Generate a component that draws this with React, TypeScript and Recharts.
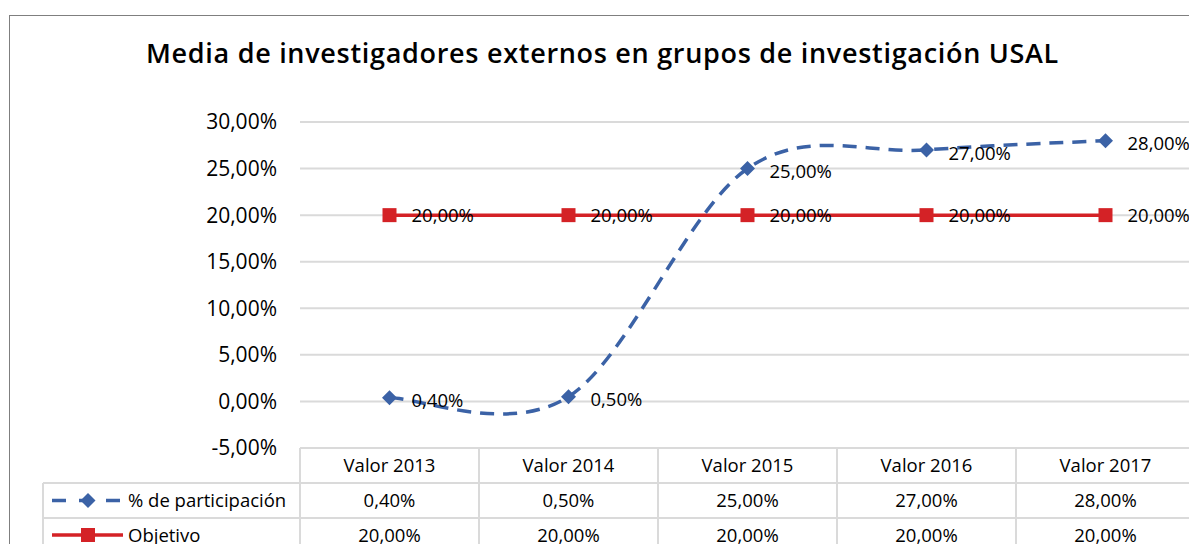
import React from "react";
import { LineChart, Line, XAxis, YAxis, CartesianGrid, LabelList } from "recharts";

const title = "Media de investigadores externos en grupos de investigación USAL";
const categories = ["Valor 2013", "Valor 2014", "Valor 2015", "Valor 2016", "Valor 2017"];
const participacion = [0.4, 0.5, 25, 27, 28];
const objetivo = [20, 20, 20, 20, 20];
const seriesNames = ["% de participación", "Objetivo"];
const yTicks = [-5, 0, 5, 10, 15, 20, 25, 30];

const BLUE = "#3b62a6";
const RED = "#d42226";
const GRID = "#dadada";
const FONT = "'Open Sans', sans-serif";

const data = categories.map((c, i) => ({
  cat: c,
  part: participacion[i],
  obj: objetivo[i],
}));

const fmt = (v: number) => v.toFixed(2).replace(".", ",") + "%";

// Excel-like smoothed line (catmull-rom through the points)
function excelSmooth(context: any) {
  let pts: number[][] = [];
  return {
    areaStart() {},
    areaEnd() {},
    lineStart() {
      pts = [];
    },
    point(x: number, y: number) {
      pts.push([+x, +y]);
    },
    lineEnd() {
      if (!pts.length) return;
      context.moveTo(pts[0][0], pts[0][1]);
      for (let i = 0; i < pts.length - 1; i++) {
        const p0 = pts[Math.max(i - 1, 0)];
        const p1 = pts[i];
        const p2 = pts[i + 1];
        const p3 = pts[Math.min(i + 2, pts.length - 1)];
        context.bezierCurveTo(
          p1[0] + (p2[0] - p0[0]) / 6,
          p1[1] + (p2[1] - p0[1]) / 6,
          p2[0] - (p3[0] - p1[0]) / 6,
          p2[1] - (p3[1] - p1[1]) / 6,
          p2[0],
          p2[1]
        );
      }
    },
  };
}

const Diamond = (props: any) => {
  const { cx, cy } = props;
  if (cx == null || cy == null) return null;
  const r = 7.5;
  return (
    <polygon
      points={`${cx},${cy - r} ${cx + r},${cy} ${cx},${cy + r} ${cx - r},${cy}`}
      fill={BLUE}
    />
  );
};

const Square = (props: any) => {
  const { cx, cy } = props;
  if (cx == null || cy == null) return null;
  return <rect x={cx - 7} y={cy - 7} width={14} height={14} fill={RED} />;
};

// geometry of the data table under the plot
const PLOT_LEFT = 300;
const COL_W = 179;
const TABLE_TOP = 448;
const ROW_H = [35, 35, 34];
const LEGEND_LEFT = 43;
const TABLE_FONT = 18.5;

function DataTable() {
  const rowTops = [TABLE_TOP, TABLE_TOP + ROW_H[0], TABLE_TOP + ROW_H[0] + ROW_H[1]];
  const bottom = rowTops[2] + ROW_H[2];
  const rows = [participacion, objetivo];
  return (
    <svg
      width={1189}
      height={544}
      style={{ position: "absolute", left: 0, top: 0, pointerEvents: "none" }}
    >
      {/* horizontal lines */}
      <line x1={PLOT_LEFT} x2={1189} y1={rowTops[0]} y2={rowTops[0]} stroke={GRID} strokeWidth={2} />
      <line x1={LEGEND_LEFT} x2={1189} y1={rowTops[1]} y2={rowTops[1]} stroke={GRID} strokeWidth={2} />
      <line x1={LEGEND_LEFT} x2={1189} y1={rowTops[2]} y2={rowTops[2]} stroke={GRID} strokeWidth={2} />
      <line x1={LEGEND_LEFT} x2={1189} y1={bottom} y2={bottom} stroke={GRID} strokeWidth={2} />
      {/* vertical lines */}
      <line x1={LEGEND_LEFT} x2={LEGEND_LEFT} y1={rowTops[1]} y2={bottom} stroke={GRID} strokeWidth={2} />
      {categories.map((_, i) => (
        <line
          key={i}
          x1={PLOT_LEFT + i * COL_W}
          x2={PLOT_LEFT + i * COL_W}
          y1={rowTops[0]}
          y2={bottom}
          stroke={GRID}
          strokeWidth={2}
        />
      ))}
      <line x1={PLOT_LEFT + 5 * COL_W} x2={PLOT_LEFT + 5 * COL_W} y1={rowTops[0]} y2={bottom} stroke={GRID} strokeWidth={2} />
      {/* header */}
      {categories.map((c, i) => (
        <text
          key={c}
          x={PLOT_LEFT + i * COL_W + COL_W / 2}
          y={rowTops[0] + ROW_H[0] / 2 + 6.5}
          textAnchor="middle"
          fontFamily={FONT}
          fontSize={TABLE_FONT}
          fill="#000"
        >
          {c}
        </text>
      ))}
      {rows.map((vals, r) =>
        vals.map((v, i) => (
          <text
            key={`${r}-${i}`}
            x={PLOT_LEFT + i * COL_W + COL_W / 2}
            y={rowTops[r + 1] + ROW_H[r + 1] / 2 + 6.5}
            textAnchor="middle"
            fontFamily={FONT}
            fontSize={TABLE_FONT}
            fill="#000"
          >
            {fmt(v)}
          </text>
        ))
      )}
      {/* legend keys */}
      {(() => {
        const cy = rowTops[1] + ROW_H[1] / 2;
        return (
          <g>
            <line x1={52} x2={123} y1={cy} y2={cy} stroke={BLUE} strokeWidth={3.5} strokeDasharray="14 13" />
            <Diamond cx={88} cy={cy} />
          </g>
        );
      })()}
      {(() => {
        const cy = rowTops[2] + ROW_H[2] / 2;
        return (
          <g>
            <line x1={52} x2={123} y1={cy} y2={cy} stroke={RED} strokeWidth={3.5} />
            <Square cx={88} cy={cy} />
          </g>
        );
      })()}
      {seriesNames.map((n, r) => (
        <text
          key={n}
          x={128}
          y={rowTops[r + 1] + ROW_H[r + 1] / 2 + 6.5}
          fontFamily={FONT}
          fontSize={TABLE_FONT}
          fill="#000"
        >
          {n}
        </text>
      ))}
    </svg>
  );
}

export default function App() {
  return (
    <div
      style={{
        position: "absolute",
        left: 0,
        top: 0,
        width: 1189,
        height: 544,
        overflow: "hidden",
        background: "#fff",
      }}
    >
      <div
        style={{
          position: "absolute",
          left: 9,
          top: 15,
          width: 1300,
          height: 700,
          border: "1px solid #7f7f7f",
        }}
      />
      <div
        style={{
          position: "absolute",
          left: 0,
          width: 1205,
          top: 34,
          textAlign: "center",
          fontFamily: FONT,
          fontWeight: 600,
          fontSize: 27,
          letterSpacing: 0.7,
          whiteSpace: "nowrap",
          color: "#000",
        }}
      >
        {title}
      </div>
      <div style={{ position: "absolute", left: 0, top: 0 }}>
        <LineChart
          width={1200}
          height={544}
          data={data}
          margin={{ top: 122, right: 5, left: 220, bottom: 96 }}
        >
          <CartesianGrid vertical={false} stroke={GRID} strokeWidth={2} />
          <XAxis dataKey="cat" hide padding={{ left: 89.5, right: 89.5 }} />
          <YAxis
            width={80}
            domain={[-5, 30]}
            ticks={yTicks}
            interval={0}
            axisLine={false}
            tickLine={false}
            tickSize={0}
            tickMargin={23}
            tickFormatter={fmt}
            tick={{ fontFamily: FONT, fontSize: 21, fill: "#000" }}
          />
          <Line
            dataKey="obj"
            type="linear"
            stroke={RED}
            strokeWidth={3.5}
            dot={<Square />}
            activeDot={false}
            isAnimationActive={false}
          >
            <LabelList
              dataKey="obj"
              position="right"
              offset={22}
              formatter={(v: any) => fmt(Number(v))}
              style={{ fontFamily: FONT, fontSize: 18.5, fill: "#000" }}
            />
          </Line>
          <Line
            dataKey="part"
            type={excelSmooth as any}
            stroke={BLUE}
            strokeWidth={3.5}
            strokeDasharray="14 9"
            dot={<Diamond />}
            activeDot={false}
            isAnimationActive={false}
          >
            <LabelList
              dataKey="part"
              position="right"
              offset={22}
              dy={3}
              formatter={(v: any) => fmt(Number(v))}
              style={{ fontFamily: FONT, fontSize: 18.5, fill: "#000" }}
            />
          </Line>
        </LineChart>
      </div>
      <DataTable />
    </div>
  );
}
